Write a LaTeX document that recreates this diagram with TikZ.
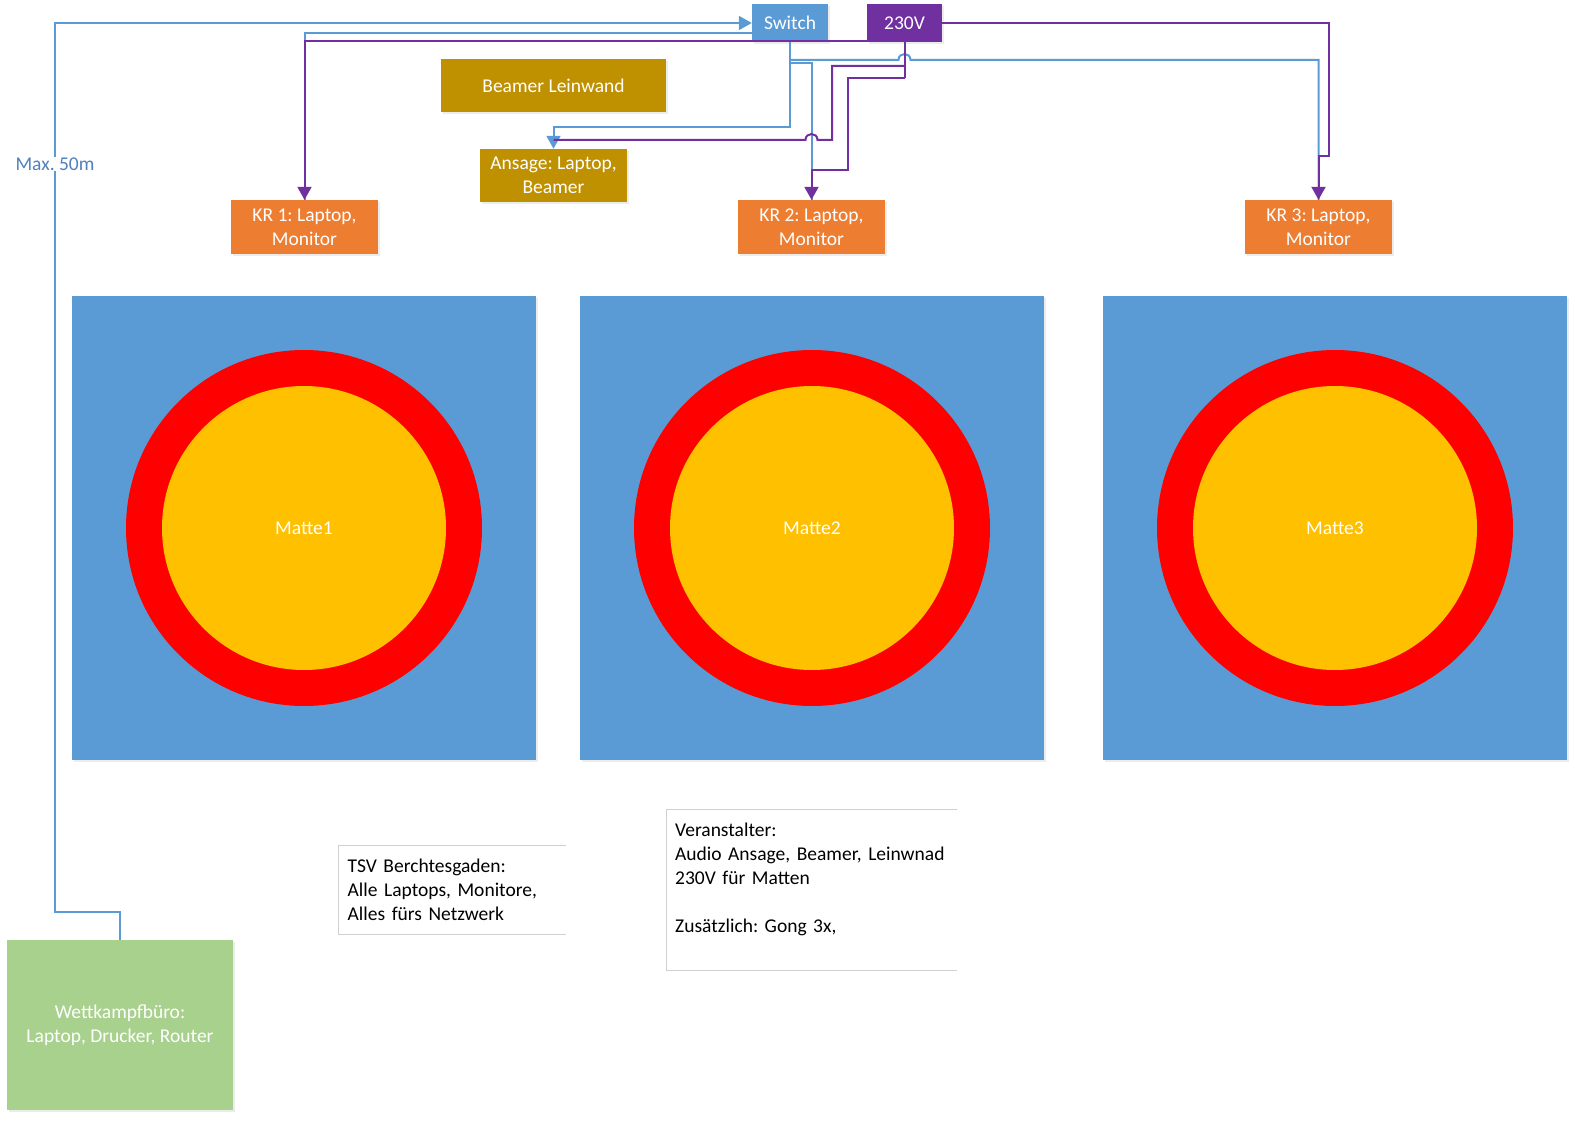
\documentclass[tikz,border=0pt]{standalone}
\usepackage{fontspec}
\setmainfont{Carlito}
\usetikzlibrary{arrows.meta,shadows}
\definecolor{lanblue}{HTML}{5B9BD5}
\definecolor{powerpurple}{HTML}{7030A0}
\definecolor{krorange}{HTML}{ED7D31}
\definecolor{avgold}{HTML}{BF9000}
\definecolor{officegreen}{HTML}{A9D18E}
\definecolor{matblue}{HTML}{5B9BD5}
\definecolor{ringred}{HTML}{FF0000}
\definecolor{coreyellow}{HTML}{FFC000}
\definecolor{labelblue}{HTML}{4F81BD}
\definecolor{notegray}{HTML}{D0D0D0}

\begin{document}
\frenchspacing
\begin{tikzpicture}[x=1pt,y=-1pt,>={Triangle[width=14pt,length=13pt]},
  every node/.style={font=\fontsize{19.5}{24}\selectfont},
  dev/.style={rectangle,inner sep=0pt,text=white,align=center,
    drop shadow={opacity=0.15,shadow xshift=2pt,shadow yshift=-2pt}},
  kr/.style={dev,fill=krorange,minimum width=147,minimum height=54},
  mat/.style={rectangle,fill=matblue,minimum size=464,inner sep=0pt,
    drop shadow={opacity=0.15,shadow xshift=2pt,shadow yshift=-2pt}},
  ring/.style={circle,fill=ringred,minimum size=356,inner sep=0pt},
  core/.style={circle,fill=coreyellow,minimum size=284,inner sep=0pt,text=white},
  note/.style={rectangle,anchor=west,align=left,inner xsep=9pt,inner ysep=0pt},
  noteline/.style={notegray,line width=1pt},
  lan/.style={lanblue,line width=2pt},
  power/.style={powerpurple,line width=2pt}]
  \useasboundingbox (0,0) rectangle (1575,1121);
  % mats
  \foreach \i/\x in {1/304,2/812,3/1335}{
    \node[mat] (mat\i) at (\x,528) {};
    \node[ring] (ring\i) at (mat\i) {};
    \node[core] (core\i) at (mat\i) {Matte\i};
  }
  % devices
  \node[dev,fill=lanblue,minimum width=76,minimum height=38] (switch) at (790,23) {Switch};
  \node[dev,fill=powerpurple,minimum width=75,minimum height=38] (v230) at (904.5,23) {230V};
  \node[dev,fill=avgold,minimum width=225,minimum height=53] (beamer) at (553.5,85.5) {Beamer Leinwand};
  \node[dev,fill=avgold,minimum width=147,minimum height=53] (ansage) at (553.5,175.5) {Ansage: Laptop,\\Beamer};
  \foreach \i/\x in {1/304.5,2/811.5,3/1318.5}
    \node[kr] (kr\i) at (\x,227) {KR \i: Laptop,\\Monitor};
  \node[dev,fill=officegreen,minimum width=226,minimum height=170] (buero) at (120,1025) {Wettkampfbüro:\\Laptop, Drucker, Router};
  % notes
  \node[note,text width=215,minimum height=88] (tsv) at (338.5,890)
    {TSV Berchtesgaden:\\Alle Laptops, Monitore,\\Alles fürs Netzwerk};
  \draw[noteline] ([xshift=227pt]tsv.north west) -- (tsv.north west) -- (tsv.south west) -- ([xshift=227pt]tsv.south west);
  \node[note,text width=280,minimum height=160] (veran) at (666,890)
    {Veranstalter:\\Audio Ansage, Beamer, Leinwnad\\230V für Matten\\ \mbox{}\\Zusätzlich: Gong 3x,\\ \mbox{}};
  \draw[noteline] ([xshift=291pt]veran.north west) -- (veran.north west) -- (veran.south west) -- ([xshift=291pt]veran.south west);
  % network
  \draw[lan,->] (buero.north) -- (120,912) -- (55,912) -- (55,23) -- (switch.west);
  \node[text=labelblue,fill=white,inner sep=1pt] (maxlen) at (55,164) {Max. 50m};
  \draw[lan] (switch.west |- 0,33.5) -- (304.5,33.5) -- (kr1.north);
  \draw[lan,->] (switch.south) -- (790,127) -- (553.5,127) -- (ansage.north);
  \draw[lan] (790,60) -- (898.5,60) .. controls (898.5,52) and (910.5,52) .. (910.5,60) -- (1318.5,60) -- (kr3.north);
  \draw[lan] (790,63.5) -- (811.5,63.5) -- (kr2.north);
  % power
  \draw[power,->] (v230.west |- 0,41.5) -- (304.5,41.5) -- (kr1.north);
  \draw[power] (v230.south) -- (904.5,78);
  \draw[power] (904.5,66) -- (832,66) -- (832,140) -- (817.5,140) .. controls (817.5,132) and (805.5,132) .. (805.5,140) -- (ansage.north |- 0,140);
  \draw[power,->] (904.5,78) -- (848,78) -- (848,170) -- (811.5,170) -- (kr2.north);
  \draw[power,->] (v230.east) -- (1329,23) -- (1329,156) -- (1318.5,156) -- (kr3.north);
\end{tikzpicture}
\end{document}
